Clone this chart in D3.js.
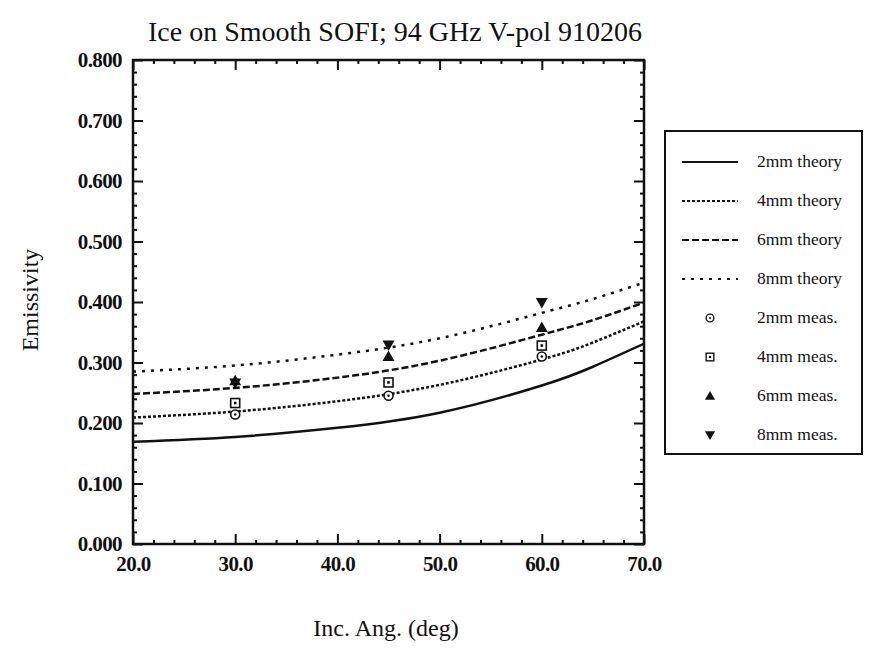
<!DOCTYPE html>
<html>
<head>
    <title>Ice on Smooth SOFI</title>
    <script src="https://cdnjs.cloudflare.com/ajax/libs/d3/7.8.5/d3.min.js"></script>
    <style>
        body { margin: 0; background: #fff; }
        svg, svg text { font-family: "Liberation Serif", "DejaVu Serif", serif; }
        .tick-label { font-size: 21px; font-weight: bold; fill: #111; letter-spacing: -0.6px; }
        .legend-label { font-size: 17.5px; fill: #111; }
        .axis path { display: none; }
        .axis line { stroke: #111; stroke-width: 2; }
        .curve { fill: none; stroke: #111; stroke-width: 2.5; }
    </style>
</head>
<body>
    <div id="chart"></div>
    <script>
        // theory curves, emissivity vs incidence angle
        const angles = [20, 30, 40, 50, 60, 65, 70];
        const theory2mm = [0.169, 0.177, 0.192, 0.217, 0.262, 0.293, 0.331];
        const theory4mm = [0.209, 0.219, 0.236, 0.263, 0.305, 0.333, 0.368];
        const theory6mm = [0.248, 0.258, 0.275, 0.303, 0.346, 0.370, 0.399];
        const theory8mm = [0.285, 0.295, 0.313, 0.340, 0.382, 0.405, 0.432];

        // measurements
        const measAngles = [30, 45, 60];
        const meas2mm = [0.214, 0.245, 0.310];
        const meas4mm = [0.233, 0.267, 0.328];
        const meas6mm = [0.270, 0.310, 0.358];
        const meas8mm = [0.266, 0.329, 0.399];

        const xTicks = [20, 30, 40, 50, 60, 70];
        const yTicks = [0, 0.1, 0.2, 0.3, 0.4, 0.5, 0.6, 0.7, 0.8];

        const W = 869, H = 649;
        const plot = { left: 133, right: 644, top: 60, bottom: 544 };

        const svg = d3.select('#chart').append('svg')
            .attr('width', W).attr('height', H);

        const x = d3.scaleLinear().domain([20, 70]).range([plot.left, plot.right]);
        const y = d3.scaleLinear().domain([0, 0.8]).range([plot.bottom, plot.top]);

        const plotW = plot.right - plot.left;
        const plotH = plot.bottom - plot.top;

        svg.append('defs').append('clipPath').attr('id', 'clip')
            .append('rect')
            .attr('x', plot.left).attr('y', plot.top)
            .attr('width', plotW).attr('height', plotH);

        // minor ticks (inward, every 2 deg / 0.02)
        const xMinor = d3.range(20, 70.01, 2).filter(v => v % 10 !== 0);
        const yMinor = d3.range(0, 0.801, 0.02).filter(v => Math.abs(v * 10 - Math.round(v * 10)) > 1e-6);

        svg.append('g').attr('class', 'axis')
            .attr('transform', `translate(0,${plot.bottom})`)
            .call(d3.axisBottom(x).tickValues(xMinor).tickSize(-4).tickFormat(''));
        svg.append('g').attr('class', 'axis')
            .attr('transform', `translate(0,${plot.top})`)
            .call(d3.axisTop(x).tickValues(xMinor).tickSize(-4).tickFormat(''));
        svg.append('g').attr('class', 'axis')
            .attr('transform', `translate(${plot.left},0)`)
            .call(d3.axisLeft(y).tickValues(yMinor).tickSize(-4).tickFormat(''));
        svg.append('g').attr('class', 'axis')
            .attr('transform', `translate(${plot.right},0)`)
            .call(d3.axisRight(y).tickValues(yMinor).tickSize(-4).tickFormat(''));

        // major ticks
        const xAxis = svg.append('g').attr('class', 'axis')
            .attr('transform', `translate(0,${plot.bottom})`)
            .call(d3.axisBottom(x).tickValues(xTicks).tickSize(-10).tickPadding(27)
                .tickFormat(d3.format('.1f')));
        xAxis.attr('font-family', null).attr('font-size', null);
        xAxis.selectAll('text').attr('class', 'tick-label').attr('dy', 0);
        svg.append('g').attr('class', 'axis')
            .attr('transform', `translate(0,${plot.top})`)
            .call(d3.axisTop(x).tickValues(xTicks).tickSize(-10).tickFormat(''));

        const yAxis = svg.append('g').attr('class', 'axis')
            .attr('transform', `translate(${plot.left},0)`)
            .call(d3.axisLeft(y).tickValues(yTicks).tickSize(-10).tickPadding(11)
                .tickFormat(d3.format('.3f')));
        yAxis.attr('font-family', null).attr('font-size', null);
        yAxis.selectAll('text').attr('class', 'tick-label');
        svg.append('g').attr('class', 'axis')
            .attr('transform', `translate(${plot.right},0)`)
            .call(d3.axisRight(y).tickValues(yTicks).tickSize(-10).tickFormat(''));

        // frame
        svg.append('rect')
            .attr('x', plot.left).attr('y', plot.top)
            .attr('width', plotW).attr('height', plotH)
            .attr('fill', 'none').attr('stroke', '#111').attr('stroke-width', 2.5);

        // theory curves
        const theories = [
            { name: '2mm theory', values: theory2mm, dash: null },
            { name: '4mm theory', values: theory4mm, dash: '3,2' },
            { name: '6mm theory', values: theory6mm, dash: '7,3' },
            { name: '8mm theory', values: theory8mm, dash: '3,6' }
        ];

        const line = d3.line()
            .x(d => x(d[0]))
            .y(d => y(d[1]))
            .curve(d3.curveNatural);

        svg.append('g').attr('clip-path', 'url(#clip)')
            .selectAll('path')
            .data(theories)
            .enter()
            .append('path')
            .attr('class', 'curve')
            .attr('stroke-dasharray', d => d.dash)
            .attr('d', d => line(angles.map((a, i) => [a, d.values[i]])));

        // marker drawing
        function drawMarker(g, type) {
            if (type === 'circle') {
                g.append('circle').attr('r', 4.5).attr('fill', '#fff')
                    .attr('stroke', '#111').attr('stroke-width', 1.6);
                g.append('circle').attr('r', 1.3).attr('fill', '#111');
            } else if (type === 'square') {
                g.append('rect').attr('x', -4.5).attr('y', -4.5)
                    .attr('width', 9).attr('height', 9).attr('fill', '#fff')
                    .attr('stroke', '#111').attr('stroke-width', 1.6);
                g.append('rect').attr('x', -1.3).attr('y', -1.3)
                    .attr('width', 2.6).attr('height', 2.6).attr('fill', '#111');
            } else if (type === 'up') {
                g.append('path').attr('d', 'M0,-6L6,4.5L-6,4.5Z').attr('fill', '#111');
            } else {
                g.append('path').attr('d', 'M0,6L6,-4.5L-6,-4.5Z').attr('fill', '#111');
            }
        }

        const measurements = [
            { name: '2mm meas.', values: meas2mm, type: 'circle' },
            { name: '4mm meas.', values: meas4mm, type: 'square' },
            { name: '6mm meas.', values: meas6mm, type: 'up' },
            { name: '8mm meas.', values: meas8mm, type: 'down' }
        ];

        measurements.forEach(m => {
            measAngles.forEach((a, i) => {
                const g = svg.append('g')
                    .attr('transform', `translate(${x(a)},${y(m.values[i])})`);
                drawMarker(g, m.type);
            });
        });

        // legend
        const legend = svg.append('g');
        legend.append('rect')
            .attr('x', 665).attr('y', 131)
            .attr('width', 197).attr('height', 323)
            .attr('fill', '#fff').attr('stroke', '#111').attr('stroke-width', 2);

        const rowY = d3.scalePoint()
            .domain(d3.range(8))
            .range([162, 435]);

        theories.forEach((t, i) => {
            legend.append('line')
                .attr('x1', 682).attr('x2', 738)
                .attr('y1', rowY(i)).attr('y2', rowY(i))
                .attr('stroke', '#111').attr('stroke-width', 2.2)
                .attr('stroke-dasharray', t.dash);
            legend.append('text').attr('class', 'legend-label')
                .attr('x', 757).attr('y', rowY(i) + 5).text(t.name);
        });
        measurements.forEach((m, j) => {
            const i = j + 4;
            const g = legend.append('g')
                .attr('transform', `translate(710,${rowY(i)}) scale(0.85)`);
            drawMarker(g, m.type);
            legend.append('text').attr('class', 'legend-label')
                .attr('x', 757).attr('y', rowY(i) + 5).text(m.name);
        });

        // title and axis labels
        svg.append('text')
            .attr('x', 395).attr('y', 41)
            .attr('text-anchor', 'middle')
            .style('font-size', '28px')
            .attr('fill', '#111')
            .text('Ice on Smooth SOFI; 94 GHz V-pol 910206');

        svg.append('text')
            .attr('transform', 'rotate(-90)')
            .attr('x', -300).attr('y', 38)
            .attr('text-anchor', 'middle')
            .style('font-size', '24px')
            .attr('fill', '#111')
            .text('Emissivity');

        svg.append('text')
            .attr('x', 386).attr('y', 636)
            .attr('text-anchor', 'middle')
            .style('font-size', '24px')
            .attr('fill', '#111')
            .text('Inc. Ang. (deg)');
    </script>
</body>
</html>
